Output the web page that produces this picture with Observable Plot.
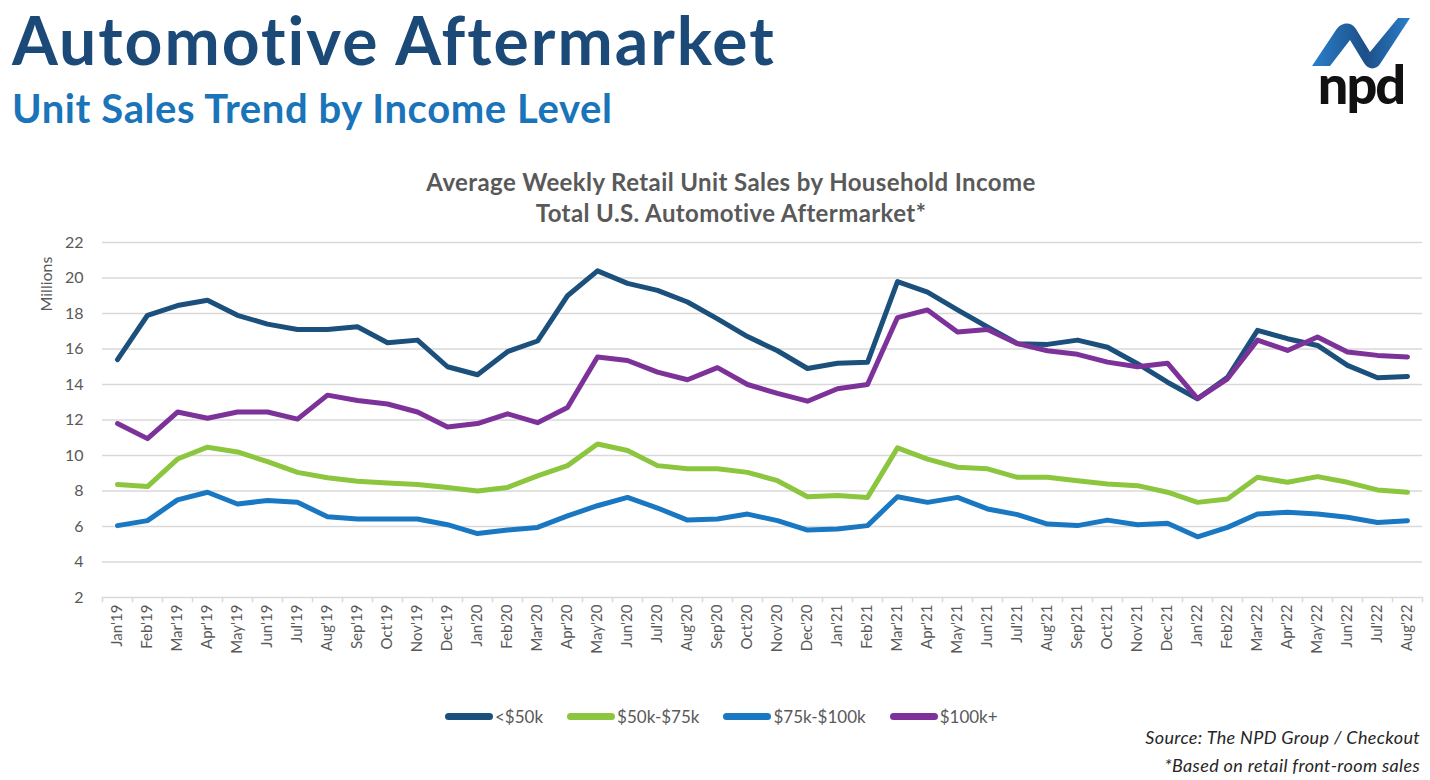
<!DOCTYPE html>
<html>
<head>
<meta charset="utf-8">
<script src="https://cdn.jsdelivr.net/npm/d3@7"></script>
<script src="https://cdn.jsdelivr.net/npm/@observablehq/plot@0.6"></script>
<style>
  html, body { margin: 0; padding: 0; background: #fff; }
  #page { position: relative; width: 1430px; height: 780px; overflow: hidden; font-family: Lato, "Open Sans", sans-serif; }
  #title { position: absolute; left: 12px; top: 0px; font-size: 66px; font-weight: 700; color: #1b4a78; letter-spacing: 2px; line-height: 80px; white-space: nowrap; }
  #subtitle { position: absolute; left: 12px; top: 83px; font-size: 40px; font-weight: 700; color: #1a74b9; letter-spacing: 0.6px; line-height: 50px; white-space: nowrap; }
  #logo { position: absolute; left: 1306px; top: 12px; }
  #charttitle { position: absolute; left: 0; width: 1462px; top: 166px; text-align: center; font-size: 24px; font-weight: 700; color: #595959; letter-spacing: 0.4px; line-height: 31px; }
  #chart { position: absolute; left: 0; top: 225px; }
  #ylabel { position: absolute; left: 45px; top: 284px; transform: translate(-50%, -50%) rotate(-90deg); font-size: 16px; color: #595959; white-space: nowrap; }
  #legend { position: absolute; left: 445px; top: 706px; display: flex; gap: 24px; font-size: 17px; color: #595959; }
  .item { display: flex; align-items: center; gap: 2px; }
  .sw { width: 48px; height: 7px; border-radius: 4px; }
  #source { position: absolute; right: 10px; top: 723px; text-align: right; font-style: italic; font-size: 18px; letter-spacing: 0.35px; color: #262626; line-height: 28px; white-space: nowrap; }
</style>
</head>
<body>
<div id="page">
  <div id="title">Automotive Aftermarket</div>
  <div id="subtitle">Unit Sales Trend by Income Level</div>
  <svg id="logo" width="110" height="106" viewBox="0 0 110 106">
    <defs>
      <linearGradient id="lg" x1="0" x2="1" y1="0" y2="0">
        <stop offset="0" stop-color="#2a7fca"/>
        <stop offset="0.55" stop-color="#1d4f88"/>
        <stop offset="1" stop-color="#2a7fca"/>
      </linearGradient>
    </defs>
    <path d="M6,54 L30,18 C35,10 45,9 50,17 L64,40 L92,6 L104,6 L74,52 C70,58 62,58 58,51 L44,28 L24,54 Z" fill="url(#lg)"/>
    <text x="55" y="92" text-anchor="middle" font-family="Lato, sans-serif" font-weight="900" font-size="54" fill="#111" letter-spacing="-2">npd</text>
  </svg>
  <div id="charttitle">Average Weekly Retail Unit Sales by Household Income<br>Total U.S. Automotive Aftermarket*</div>
  <div id="ylabel">Millions</div>
  <div id="chart"></div>
  <div id="legend"></div>
  <div id="source">Source: The NPD Group / Checkout<br>*Based on retail front-room sales</div>
</div>
<script>
const months = ["Jan'19","Feb'19","Mar'19","Apr'19","May'19","Jun'19","Jul'19","Aug'19","Sep'19","Oct'19","Nov'19","Dec'19",
  "Jan'20","Feb'20","Mar'20","Apr'20","May'20","Jun'20","Jul'20","Aug'20","Sep'20","Oct'20","Nov'20","Dec'20",
  "Jan'21","Feb'21","Mar'21","Apr'21","May'21","Jun'21","Jul'21","Aug'21","Sep'21","Oct'21","Nov'21","Dec'21",
  "Jan'22","Feb'22","Mar'22","Apr'22","May'22","Jun'22","Jul'22","Aug'22"];

const seriesNames = ["<$50k", "$50k-$75k", "$75k-$100k", "$100k+"];
const seriesColors = ["#1b4f7c", "#8cc63e", "#1a78c2", "#7d3299"];

const under50k = [15.4, 17.9, 18.45, 18.75, 17.9, 17.4, 17.1, 17.1, 17.25, 16.35, 16.5, 15.0,
  14.55, 15.85, 16.45, 19.0, 20.4, 19.7, 19.3, 18.65, 17.7, 16.7, 15.9, 14.9,
  15.2, 15.25, 19.8, 19.2, 18.2, 17.24, 16.3, 16.26, 16.5, 16.1, 15.17, 14.13,
  13.2, 14.4, 17.05, 16.58, 16.2, 15.08, 14.38, 14.45];
const k50to75 = [8.36, 8.25, 9.8, 10.47, 10.2, 9.65, 9.05, 8.75, 8.55, 8.45, 8.36, 8.2,
  8.0, 8.2, 8.85, 9.43, 10.65, 10.28, 9.43, 9.25, 9.25, 9.05, 8.58, 7.68,
  7.74, 7.64, 10.43, 9.8, 9.34, 9.25, 8.77, 8.77, 8.58, 8.4, 8.3, 7.93,
  7.36, 7.55, 8.77, 8.49, 8.81, 8.49, 8.06, 7.93];
const k75to100 = [6.05, 6.33, 7.5, 7.93, 7.27, 7.46, 7.36, 6.55, 6.42, 6.42, 6.42, 6.1,
  5.6, 5.8, 5.95, 6.6, 7.17, 7.64, 7.04, 6.36, 6.42, 6.7, 6.33, 5.8,
  5.86, 6.05, 7.68, 7.36, 7.64, 6.99, 6.67, 6.14, 6.05, 6.36, 6.1, 6.18,
  5.42, 5.95, 6.7, 6.8, 6.7, 6.52, 6.23, 6.33];
const over100k = [11.8, 10.95, 12.45, 12.1, 12.45, 12.45, 12.05, 13.4, 13.1, 12.9, 12.45, 11.6,
  11.8, 12.35, 11.85, 12.7, 15.55, 15.35, 14.7, 14.27, 14.95, 14.0, 13.5, 13.06,
  13.76, 14.0, 17.77, 18.2, 16.96, 17.1, 16.3, 15.9, 15.7, 15.26, 15.0, 15.2,
  13.2, 14.32, 16.5, 15.92, 16.68, 15.83, 15.64, 15.55];

const yTicks = [2, 4, 6, 8, 10, 12, 14, 16, 18, 20, 22];

const seriesValues = [under50k, k50to75, k75to100, over100k];
const data = seriesNames.flatMap((name, s) =>
  months.map((m, i) => ({series: name, month: m, value: seriesValues[s][i]})));

const W = 1430, ML = 102, MR = 8;
const halfStep = (W - ML - MR) / months.length / 2;

const chart = Plot.plot({
  width: W,
  height: 455,
  marginTop: 17,
  marginBottom: 83,
  marginLeft: ML,
  marginRight: MR,
  style: {fontFamily: "Lato, 'Open Sans', sans-serif", fontSize: "15px", color: "#595959", background: "transparent", overflow: "visible"},
  x: {type: "point", domain: months, padding: 0.5, tickRotate: -90, tickSize: 0, tickPadding: 7, label: null},
  y: {domain: [2, 22], ticks: yTicks, tickSize: 0, tickPadding: 19, label: null},
  color: {domain: seriesNames, range: seriesColors},
  marks: [
    Plot.ruleY(yTicks, {stroke: "#d9d9d9", strokeWidth: 1.5}),
    Plot.ruleX(months, {x: d => d, y1: 2, y2: 1.7, dx: -halfStep, stroke: "#d9d9d9", strokeWidth: 1.5}),
    Plot.ruleX(months.slice(-1), {x: d => d, y1: 2, y2: 1.7, dx: halfStep, stroke: "#d9d9d9", strokeWidth: 1.5}),
    Plot.line(data, {x: "month", y: "value", z: "series", stroke: "series", strokeWidth: 5, strokeLinejoin: "round", strokeLinecap: "round"})
  ]
});
document.getElementById("chart").appendChild(chart);
d3.select(chart).selectAll('[aria-label^="y-axis"] text').style("font-size", "16px");

const legend = d3.select("#legend");
seriesNames.forEach((name, i) => {
  const item = legend.append("div").attr("class", "item");
  item.append("div").attr("class", "sw").style("background", seriesColors[i]);
  item.append("span").text(name);
});
</script>
</body>
</html>
